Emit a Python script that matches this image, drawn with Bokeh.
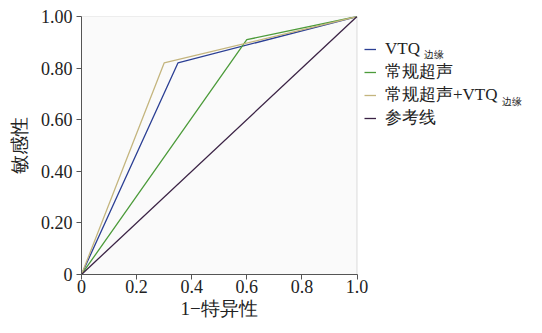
from bokeh.plotting import figure
from bokeh.models import Legend, LegendItem, Label, FixedTicker, Range1d, BoxAnnotation, Title
from bokeh.embed import file_html
from bokeh.resources import INLINE

# ROC data
vtq_x = [0, 0.35, 1.0]
vtq_y = [0, 0.82, 1.0]
us_x = [0, 0.60, 1.0]
us_y = [0, 0.91, 1.0]
comb_x = [0, 0.30, 1.0]
comb_y = [0, 0.82, 1.0]
ref_x = [0, 1.0]
ref_y = [0, 1.0]

x_ticks = [0, 0.2, 0.4, 0.6, 0.8, 1.0]
x_tick_labels = ["0", "0.2", "0.4", "0.6", "0.8", "1.0"]
y_ticks = [0, 0.2, 0.4, 0.6, 0.8, 1.0]
y_tick_labels = ["0", "0.20", "0.40", "0.60", "0.80", "1.00"]

series_names = ["VTQ", "常规超声", "常规超声+VTQ", "参考线"]
series_sub = ["边缘", "", "边缘", ""]
colors = ["#2b3f94", "#4c9b3a", "#c4b57e", "#3a2244"]

FONT = "Liberation Serif"

W, H = 526, 318
LEFT, TOP = 81, 16
BOTTOM = H - TOP - 258
PX_PER_UNIT_X = 275.5
frame_w = W - LEFT
x_end = frame_w / PX_PER_UNIT_X

p = figure(width=W, height=H, output_backend="svg", toolbar_location=None,
           x_range=Range1d(0, x_end), y_range=Range1d(0, 1),
           min_border_left=LEFT, min_border_top=TOP, min_border_right=0,
           min_border_bottom=BOTTOM)
p.background_fill_color = "#ffffff"
p.border_fill_color = "#ffffff"
p.outline_line_color = None
p.grid.visible = False

# plotting area box (0..1 square)
p.add_layout(BoxAnnotation(left=0, right=1, bottom=0, top=1, fill_color="#fafafa",
                           fill_alpha=1, line_color="#8a8a8a", line_width=1,
                           level="underlay"))

xs = [vtq_x, us_x, comb_x, ref_x]
ys = [vtq_y, us_y, comb_y, ref_y]
renderers = []
for x, y, c in zip(xs, ys, colors):
    r = p.line(x, y, line_color=c, line_width=1.3)
    renderers.append(r)

p.xaxis.ticker = FixedTicker(ticks=x_ticks)
p.yaxis.ticker = FixedTicker(ticks=y_ticks)
p.xaxis.major_label_overrides = {t: l for t, l in zip(x_ticks, x_tick_labels)}
p.yaxis.major_label_overrides = {t: l for t, l in zip(y_ticks, y_tick_labels)}
p.xaxis.bounds = (0, 1)
for ax in (p.xaxis[0], p.yaxis[0]):
    ax.axis_line_color = "#555555"
    ax.major_tick_line_color = "#555555"
    ax.major_tick_out = 5
    ax.major_tick_in = 0
    ax.minor_tick_out = 0
    ax.minor_tick_in = 0
    ax.major_label_text_font = FONT
    ax.major_label_text_font_size = "18px"
    ax.major_label_text_color = "#222222"
    ax.axis_label_text_font = FONT
    ax.axis_label_text_font_size = "19px"
    ax.axis_label_text_font_style = "normal"
    ax.axis_label_text_color = "#222222"
p.yaxis.axis_label = "敏感性"
p.xaxis.major_label_standoff = 0
p.yaxis.major_label_standoff = 4
p.yaxis.axis_label_standoff = 8

# x-axis title centred under the 0..1 square
xlab = Title(text="1−特异性", align="left", offset=99, text_font=FONT,
             text_font_size="19px", text_font_style="normal", text_color="#222222",
             standoff=0)
p.add_layout(xlab, "below")

legend = Legend(items=[LegendItem(label=n, renderers=[r]) for n, r in zip(series_names, renderers)],
                location=(283, 145))
legend.border_line_color = None
legend.background_fill_alpha = 0
legend.padding = 0
legend.margin = 0
legend.spacing = 0
legend.glyph_width = 12
legend.glyph_height = 22
legend.label_height = 22
legend.label_standoff = 9
legend.label_text_font = FONT
legend.label_text_font_size = "17px"
legend.label_text_color = "#222222"
p.add_layout(legend, "center")

# subscripts after legend labels
sub_pos = [(1.242, 0.854), None, (1.528, 0.671), None]
for s, pos in zip(series_sub, sub_pos):
    if s and pos:
        p.add_layout(Label(x=pos[0], y=pos[1], text=s, text_font=FONT,
                           text_font_size="10px", text_color="#222222",
                           text_baseline="alphabetic"))

open("out.html", "w").write(file_html(p, INLINE))
